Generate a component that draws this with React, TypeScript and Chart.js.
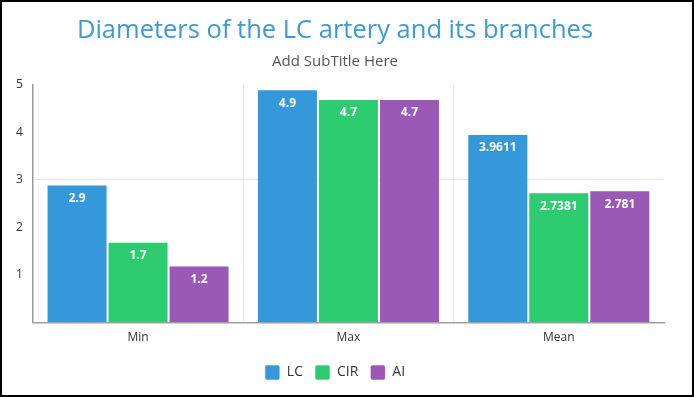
import React, { useEffect, useRef } from "react";
import { Chart, registerables } from "chart.js";

Chart.register(...registerables);

const categories = ["Min", "Max", "Mean"];
const lcValues = [2.9, 4.9, 3.9611];
const cirValues = [1.7, 4.7, 2.7381];
const aiValues = [1.2, 4.7, 2.781];
const yTicks = [0, 1, 2, 3, 4, 5];

const FONT = "'Open Sans', 'Noto Sans', sans-serif";

const dataLabelPlugin = {
  id: "dataLabels",
  afterDatasetsDraw(chart: any) {
    const ctx = chart.ctx;
    ctx.save();
    ctx.fillStyle = "#ffffff";
    ctx.font = `bold 12px ${FONT}`;
    ctx.textAlign = "center";
    ctx.textBaseline = "middle";
    chart.data.datasets.forEach((ds: any, di: number) => {
      const meta = chart.getDatasetMeta(di);
      meta.data.forEach((el: any, i: number) => {
        ctx.fillText(String(ds.data[i]), el.x, el.y + 14);
      });
    });
    ctx.restore();
  },
};

export default function App() {
  const ref = useRef<HTMLCanvasElement>(null);
  useEffect(() => {
    if (!ref.current) return;
    const mk = (label: string, data: number[], color: string) => ({
      label,
      data,
      backgroundColor: color,
      borderColor: "rgba(255,255,255,0.55)",
      borderWidth: 1,
      categoryPercentage: 0.87,
      barPercentage: 1,
    });
    const chart = new Chart(ref.current, {
      type: "bar",
      data: {
        labels: categories,
        datasets: [
          mk("LC", lcValues, "#3498db"),
          mk("CIR", cirValues, "#2ecc71"),
          mk("AI", aiValues, "#9b59b6"),
        ],
      },
      options: {
        responsive: false,
        animation: false,
        devicePixelRatio: 1,
        layout: { padding: { left: 4, right: 28, top: 13, bottom: 5 } },
        plugins: {
          title: {
            display: true,
            text: "Diameters of the LC artery and its branches",
            color: "#3d9ad8",
            font: { family: FONT, size: 25.5, weight: "normal" },
            padding: { top: 0, bottom: 5 },
          },
          subtitle: {
            display: true,
            text: "Add SubTitle Here",
            color: "#555555",
            font: { family: FONT, size: 15, weight: "normal" },
            padding: { top: 2, bottom: 14 },
          },
          legend: {
            position: "bottom",
            labels: {
              boxWidth: 15,
              boxHeight: 15,
              useBorderRadius: true,
              borderRadius: 2,
              color: "#333333",
              font: { family: FONT, size: 14 },
              padding: 12,
            },
          },
          tooltip: { enabled: false },
        },
        scales: {
          x: {
            grid: {
              color: (c: any) =>
                c.index === undefined || c.index >= categories.length ? "transparent" : "#e8e8e8",
              drawTicks: false,
            },
            border: { color: "#a0a0a0", width: 1.5 },
            ticks: {
              color: "#333333",
              font: { family: FONT, size: 12 },
              padding: 8,
            },
          },
          y: {
            min: yTicks[0],
            max: yTicks[yTicks.length - 1],
            afterBuildTicks: (axis: any) => {
              axis.ticks = yTicks.map((v) => ({ value: v }));
            },
            grid: {
              color: (c: any) => (c.tick && c.tick.value === 3 ? "#e6e6e6" : "transparent"),
              drawTicks: false,
            },
            border: { color: "#999999", width: 1.5 },
            ticks: {
              color: "#333333",
              font: { family: FONT, size: 12 },
              padding: 10,
              callback: (v: any) => (v === 0 ? "" : String(v)),
            },
          },
        },
      },
      plugins: [dataLabelPlugin],
    });
    return () => chart.destroy();
  }, []);
  return (
    <div
      style={{
        position: "absolute",
        left: 0,
        top: 0,
        width: 694,
        height: 397,
        boxSizing: "border-box",
        border: "2px solid #000",
        background: "#fff",
      }}
    >
      <canvas ref={ref} width={690} height={393} style={{ display: "block", width: 690, height: 393 }} />
    </div>
  );
}
